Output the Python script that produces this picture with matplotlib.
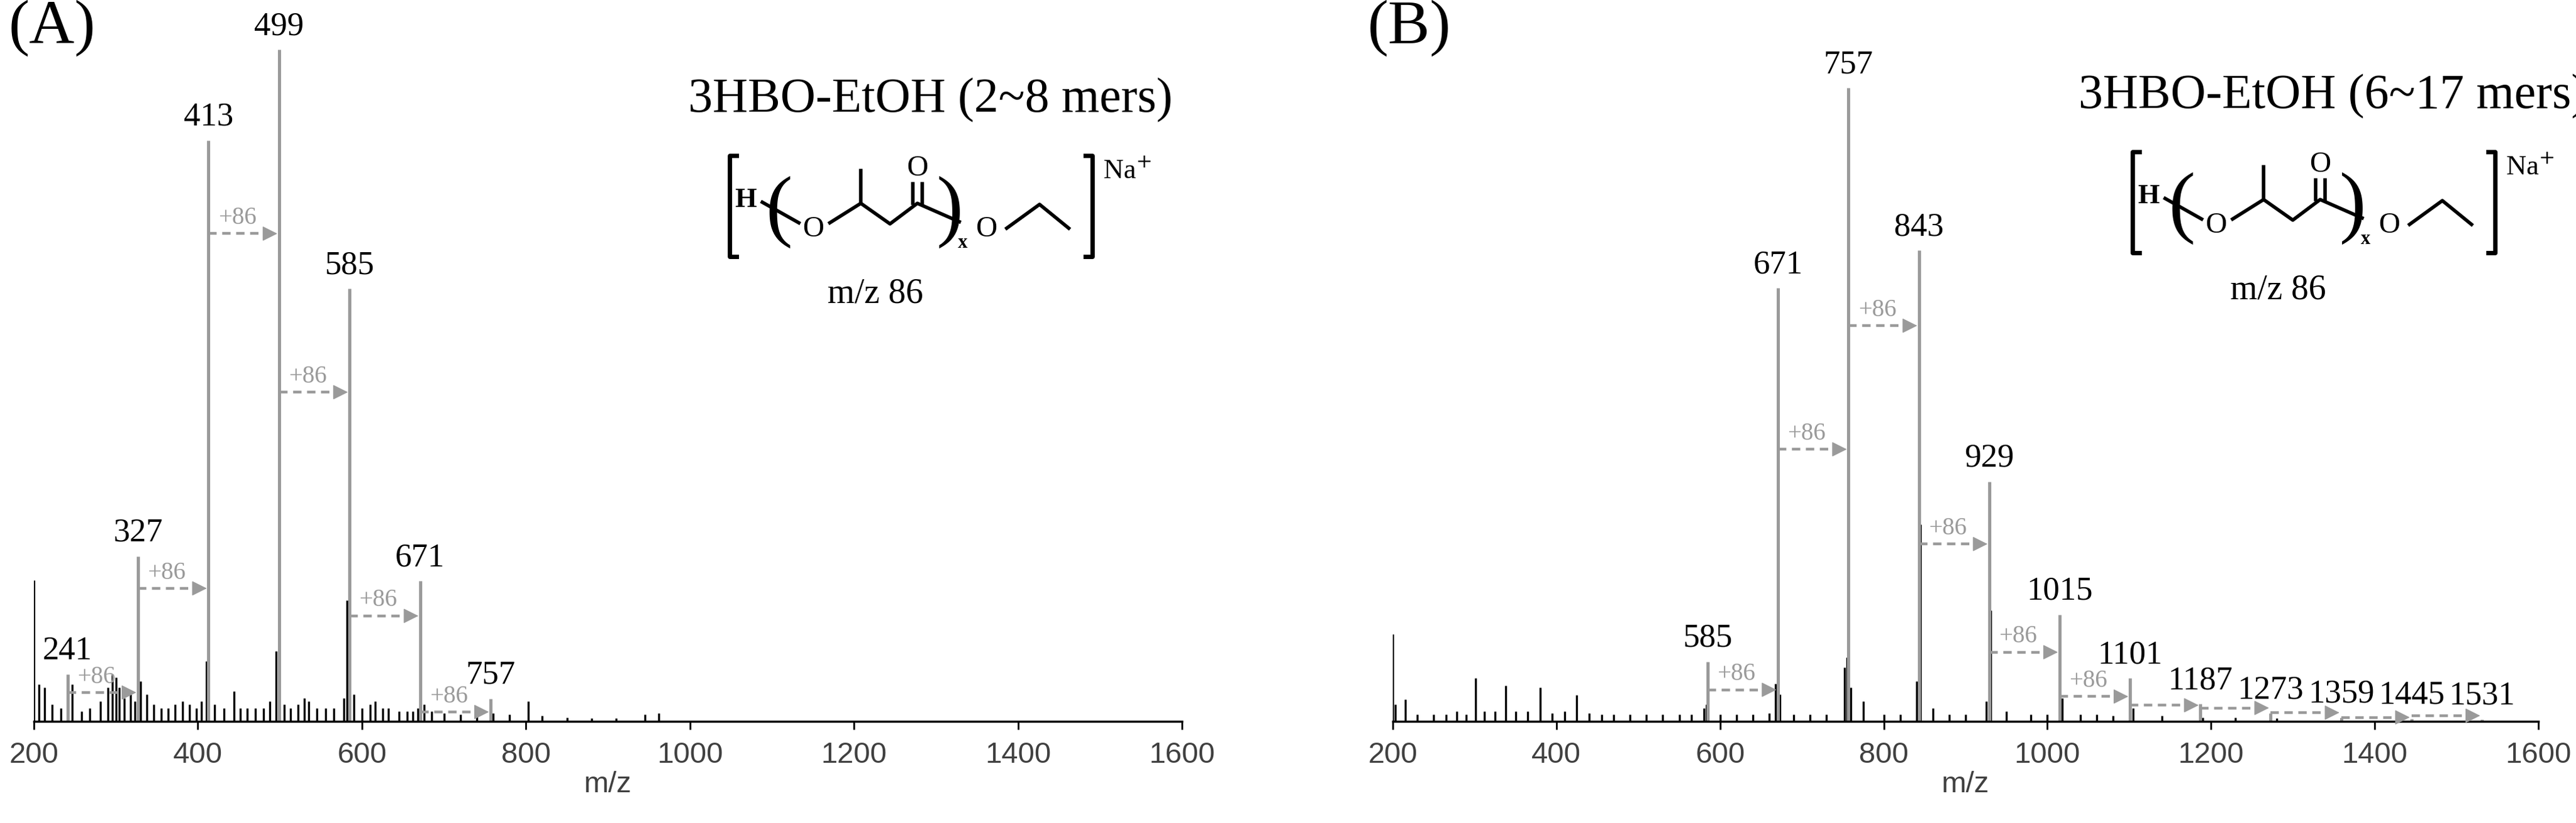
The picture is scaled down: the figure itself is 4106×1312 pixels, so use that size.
import matplotlib
matplotlib.use("Agg")
import matplotlib.pyplot as plt

# ---------------- data ----------------
# Panel A: labelled oligomer peaks (gray)
a_mz = [241, 327, 413, 499, 585, 671, 757]
a_int = [7.0, 24.6, 86.5, 100.0, 64.4, 20.9, 3.4]
# Panel A: arrows (y height of each +86 step)
a_arrow_y = [4.3, 19.8, 72.6, 49.0, 15.7, 1.4]
a_arrow_lbl = ["+86"] * 6
# Panel A: background (black) peaks
a_bg_mz = [200, 206, 213, 222, 233, 247, 258, 268, 281, 290, 296, 300, 304, 310, 318, 323, 330, 338, 346,
           355, 364, 372, 381, 390, 398, 404, 410, 420, 432, 444, 452, 460, 470, 480, 488, 495, 505, 513,
           522, 530, 535, 545, 556, 566, 578, 582, 584, 590, 600, 610, 616, 625, 632, 645, 655, 662, 668,
           676, 685, 700, 720, 740, 760, 780, 803, 820, 850, 880, 910, 945, 962]
a_bg_int = [21.0, 5.5, 5.0, 2.5, 2.0, 5.5, 1.5, 2.0, 3.0, 5.0, 7.0, 6.5, 5.0, 3.5, 4.0, 3.0, 6.0, 4.0, 2.5,
            2.0, 2.0, 2.5, 3.0, 2.5, 2.0, 3.0, 9.0, 2.5, 2.0, 4.5, 2.0, 2.0, 2.0, 2.0, 3.0, 10.5, 2.5, 2.0,
            2.5, 3.5, 3.0, 2.0, 2.0, 2.0, 3.5, 18.0, 12.0, 4.0, 2.0, 2.5, 3.0, 2.0, 2.0, 1.5, 1.5, 1.5, 2.0,
            2.5, 1.5, 1.2, 1.0, 1.0, 1.2, 1.0, 3.0, 0.8, 0.6, 0.5, 0.5, 1.0, 1.2]

# Panel B
b_mz = [585, 671, 757, 843, 929, 1015, 1101, 1187, 1273, 1359, 1445, 1531]
b_int = [8.9, 64.5, 94.3, 70.1, 35.7, 15.9, 6.4, 2.6, 1.2, 0.6, 0.4, 0.3]
b_arrow_y = [4.7, 40.5, 58.9, 26.4, 10.3, 3.7, 2.4, 2.0, 1.3, 0.6, 0.85]
b_arrow_lbl = ["+86"] * 6 + [""] * 5
b_bg_mz = [200, 203, 215, 230, 250, 265, 278, 290, 301, 312, 325, 338, 350, 365, 380, 395, 410, 425, 440,
           455, 470, 490, 510, 530, 550, 565, 580, 583, 600, 620, 640, 660, 668, 673, 690, 710, 730, 752,
           755, 760, 775, 800, 820, 840, 845, 860, 880, 900, 925, 931, 950, 980, 1000, 1018, 1040, 1060,
           1080, 1105, 1140, 1190, 1230, 1280]
b_bg_int = [13.0, 2.5, 3.3, 1.0, 1.0, 1.0, 1.5, 1.0, 6.4, 1.5, 1.5, 5.3, 1.5, 1.5, 5.0, 1.2, 1.5, 3.9, 1.2,
            1.0, 1.0, 1.0, 1.0, 1.0, 1.0, 1.0, 2.0, 2.5, 1.0, 1.0, 1.0, 1.2, 5.6, 4.0, 1.0, 1.0, 1.0, 8.0,
            9.5, 5.0, 3.0, 1.0, 1.0, 6.0, 29.3, 2.0, 1.0, 1.0, 3.0, 16.5, 1.5, 1.0, 1.0, 3.5, 1.0, 1.0,
            0.8, 2.0, 0.8, 0.6, 0.6, 0.5]

panels = [
    ("(A)", "3HBO-EtOH (2~8 mers)", a_mz, a_int, a_arrow_y, a_arrow_lbl, a_bg_mz, a_bg_int),
    ("(B)", "3HBO-EtOH (6~17 mers)", b_mz, b_int, b_arrow_y, b_arrow_lbl, b_bg_mz, b_bg_int),
]
xticks = [200, 400, 600, 800, 1000, 1200, 1400, 1600]

W, H = 4106, 1312
fig = plt.figure(figsize=(W / 100, H / 100), dpi=100)
SERIF = "Liberation Serif"
GRAY = "#9a9a9a"

ax_px = [(54, 1884), (2220, 4046)]
base_px, top_px = 1150, 79

def fx(X):
    return X / W

def fy(Y):
    return 1 - Y / H

def draw_structure(dx, dy):
    def P(u, v):
        return fx(1000 + u / 1.72 + dx), fy(100 + v / 2.9 + dy)
    def line(pts, lw=4.0):
        xs, ys = zip(*[P(u, v) for u, v in pts])
        fig.add_artist(plt.Line2D(xs, ys, color="black", lw=lw, transform=fig.transFigure))
    def txt(u, v, s, size, **kw):
        x, y = P(u, v)
        fig.text(x, y, s, fontsize=size, family=SERIF, ha="center", va="center", **kw)
    line([(300, 430), (280, 430), (280, 895), (300, 895)], lw=5)
    line([(1255, 430), (1275, 430), (1275, 895), (1255, 895)], lw=5)
    txt(1370, 505, "Na$^{+}$", 32)
    txt(325, 635, "H", 32, weight="bold")
    line([(370, 645), (470, 740)])
    txt(510, 770, "O", 34)
    line([(555, 740), (640, 650), (720, 745), (795, 650), (910, 735)])
    line([(640, 650), (640, 500)])
    line([(782, 650), (782, 560)])
    line([(808, 650), (808, 560)])
    txt(795, 490, "O", 34)
    txt(985, 770, "O", 34)
    line([(1040, 765), (1130, 655), (1210, 765)])
    txt(415, 690, "(", 92)
    txt(885, 690, ")", 92)
    txt(920, 835, "x", 22, weight="bold")
    txt(680, 1070, "m/z 86", 40)

for i, (tag, title, mz, inten, ay, albl, bmz, bint) in enumerate(panels):
    x0, x1 = ax_px[i]
    ax = fig.add_axes([fx(x0), fy(base_px), (x1 - x0) / W, (base_px - top_px) / H])
    ax.set_xlim(200, 1600)
    ax.set_ylim(0, 100)
    ax.vlines(bmz, 0, bint, color="black", lw=2.4)
    ax.vlines(mz, 0, inten, color=GRAY, lw=3.6)
    for m, v in zip(mz, inten):
        ax.text(m, v + 1.2, str(m), ha="center", va="bottom", fontsize=38, family=SERIF)
    for k, (y, lb) in enumerate(zip(ay, albl)):
        s, e = mz[k], mz[k + 1]
        ax.plot([s, e - 9], [y, y], ls=(0, (3, 2)), color=GRAY, lw=3.2)
        ax.annotate("", xy=(e, y), xytext=(e - 10, y),
                    arrowprops=dict(arrowstyle="-|>", color=GRAY, lw=1, mutation_scale=38))
        if lb:
            ax.text((s + e) / 2 - 8, y + 0.6, lb, ha="center", va="bottom", fontsize=28,
                    family=SERIF, color=GRAY)
    for sp in ["top", "right", "left"]:
        ax.spines[sp].set_visible(False)
    ax.spines["bottom"].set_linewidth(2.5)
    ax.set_yticks([])
    ax.set_xticks(xticks)
    ax.tick_params(axis="x", length=9, width=2, labelsize=34, labelcolor="#404040", pad=14)
    for t in ax.get_xticklabels():
        t.set_family("Liberation Sans")
    ax.set_xlabel("m/z", fontsize=34, color="#404040", family="Liberation Sans", labelpad=2)
    fig.text(fx(x0 - 40), fy(0), tag, fontsize=72, family=SERIF, va="top", ha="left")
    dx = 0 if i == 0 else 2236
    dy = 0 if i == 0 else -6
    fig.text(fx(1483 + dx), fy(160 + dy), title, fontsize=56, family=SERIF, ha="center", va="center")
    draw_structure(dx, dy)

fig.savefig("out.png", dpi=100)
